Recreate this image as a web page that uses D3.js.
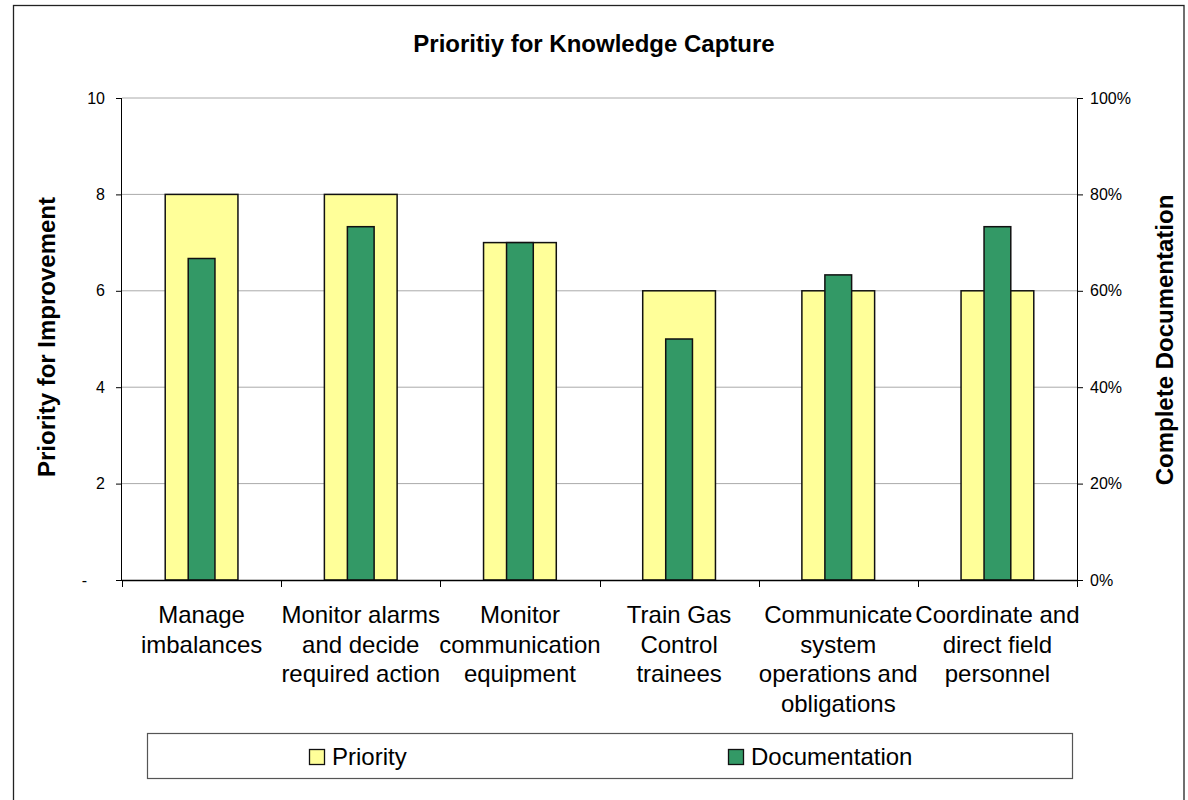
<!DOCTYPE html>
<html><head><meta charset="utf-8">
<script src="https://cdn.jsdelivr.net/npm/d3@7"></script>
<style>
html,body{margin:0;padding:0;background:#fff;}
svg{display:block;font-family:Arial,"Liberation Sans",sans-serif;}
</style></head>
<body>
<svg id="chart" width="1188" height="800"></svg>
<script>
const categories = [
  "Manage\nimbalances",
  "Monitor alarms\nand decide\nrequired action",
  "Monitor\ncommunication\nequipment",
  "Train Gas\nControl\ntrainees",
  "Communicate\nsystem\noperations and\nobligations",
  "Coordinate and\ndirect field\npersonnel"
];
const priority = [8, 8, 7, 6, 6, 6];
const documentation = [0.667, 0.733, 0.70, 0.50, 0.633, 0.733];
const leftTicks = [0, 2, 4, 6, 8, 10];
const rightTicks = [0, 0.2, 0.4, 0.6, 0.8, 1.0];
const seriesNames = ["Priority", "Documentation"];
const colors = ["#FFFF99", "#339966"];

const svg = d3.select("#chart");
const L = 122, R = 1077, T = 98, B = 580;

// outer frame
svg.append("rect").attr("x", 13.5).attr("y", 5.5).attr("width", 1170.5).attr("height", 820)
  .attr("fill", "#fff").attr("stroke", "#222").attr("stroke-width", 1.3);

const x = d3.scaleBand().domain(categories).range([L, R]).padding(0);
const yL = d3.scaleLinear().domain([0, 10]).range([B, T]);
const yR = d3.scaleLinear().domain([0, 1]).range([B, T]);

// gridlines
svg.append("g").selectAll("line").data(leftTicks.filter(d => d > 0)).join("line")
  .attr("x1", L).attr("x2", R).attr("y1", d => yL(d)).attr("y2", d => yL(d))
  .attr("stroke", "#aaaaaa").attr("stroke-width", 1);

// bars
const step = x.bandwidth();
const wP = step * 0.457, wD = step * 0.168;
svg.append("g").selectAll("rect").data(priority).join("rect")
  .attr("x", (d, i) => x(categories[i]) + step / 2 - wP / 2)
  .attr("y", d => yL(d)).attr("width", wP).attr("height", d => B - yL(d))
  .attr("fill", colors[0]).attr("stroke", "#111").attr("stroke-width", 1.5);
svg.append("g").selectAll("rect").data(documentation).join("rect")
  .attr("x", (d, i) => x(categories[i]) + step / 2 - wD / 2)
  .attr("y", d => yR(d)).attr("width", wD).attr("height", d => B - yR(d))
  .attr("fill", colors[1]).attr("stroke", "#111").attr("stroke-width", 1.5);

// left axis
const gl = svg.append("g").attr("transform", `translate(${L},0)`)
  .call(d3.axisLeft(yL).tickValues(leftTicks).tickSize(6).tickPadding(11)
    .tickFormat(d => d === 0 ? "-" : d));
gl.select(".domain").attr("stroke", "#000").attr("d", `M-0.5,${T}V${B}`);
gl.selectAll(".tick line").attr("stroke", "#000");
gl.selectAll(".tick text").attr("font-size", 16).attr("fill", "#000")
  .attr("font-family", "Arial, 'Liberation Sans', sans-serif");
gl.selectAll(".tick text").filter(d => d === 0).attr("x", -35);

// right axis
const gr = svg.append("g").attr("transform", `translate(${R},0)`)
  .call(d3.axisRight(yR).tickValues(rightTicks).tickSize(6).tickPadding(7)
    .tickFormat(d3.format(".0%")));
gr.select(".domain").attr("stroke", "#000").attr("d", `M0.5,${T}V${B}`);
gr.selectAll(".tick line").attr("stroke", "#000");
gr.selectAll(".tick text").attr("font-size", 16).attr("fill", "#000")
  .attr("font-family", "Arial, 'Liberation Sans', sans-serif");

// bottom axis (ticks at category boundaries)
const bounds = categories.map(c => x(c)).concat([R]);
svg.append("line").attr("x1", L).attr("x2", R).attr("y1", B + 0.5).attr("y2", B + 0.5)
  .attr("stroke", "#000").attr("stroke-width", 1.3);
svg.append("g").selectAll("line").data(bounds).join("line")
  .attr("x1", d => Math.round(d) + 0.5).attr("x2", d => Math.round(d) + 0.5)
  .attr("y1", B).attr("y2", B + 7).attr("stroke", "#000");

// category labels
const lab = svg.append("g").selectAll("text").data(categories).join("text")
  .attr("text-anchor", "middle").attr("font-size", 24).attr("fill", "#000")
  .attr("transform", d => `translate(${x(d) + step / 2},623)`);
lab.selectAll("tspan").data(d => d.split("\n")).join("tspan")
  .attr("x", 0).attr("y", (d, i) => i * 29.5).text(d => d);

// title
svg.append("text").attr("x", 594).attr("y", 52).attr("text-anchor", "middle")
  .attr("font-size", 24).attr("font-weight", "bold").text("Prioritiy for Knowledge Capture");

// axis titles
svg.append("text").attr("transform", "translate(55,337) rotate(-90)")
  .attr("text-anchor", "middle").attr("font-size", 24).attr("font-weight", "bold")
  .text("Priority for Improvement");
svg.append("text").attr("transform", "translate(1173,340) rotate(-90)")
  .attr("text-anchor", "middle").attr("font-size", 24).attr("font-weight", "bold")
  .text("Complete Documentation");

// legend
const lg = svg.append("g");
lg.append("rect").attr("x", 147.5).attr("y", 733.5).attr("width", 925).attr("height", 45)
  .attr("fill", "#fff").attr("stroke", "#555").attr("stroke-width", 1.2);
const legX = [309, 728];
seriesNames.forEach((s, i) => {
  lg.append("rect").attr("x", legX[i] + 0.5).attr("y", 749.5).attr("width", 15).attr("height", 15)
    .attr("fill", colors[i]).attr("stroke", "#111").attr("stroke-width", 1.3);
  lg.append("text").attr("x", legX[i] + 23).attr("y", 765).attr("font-size", 24).text(s);
});
</script>
</body></html>
